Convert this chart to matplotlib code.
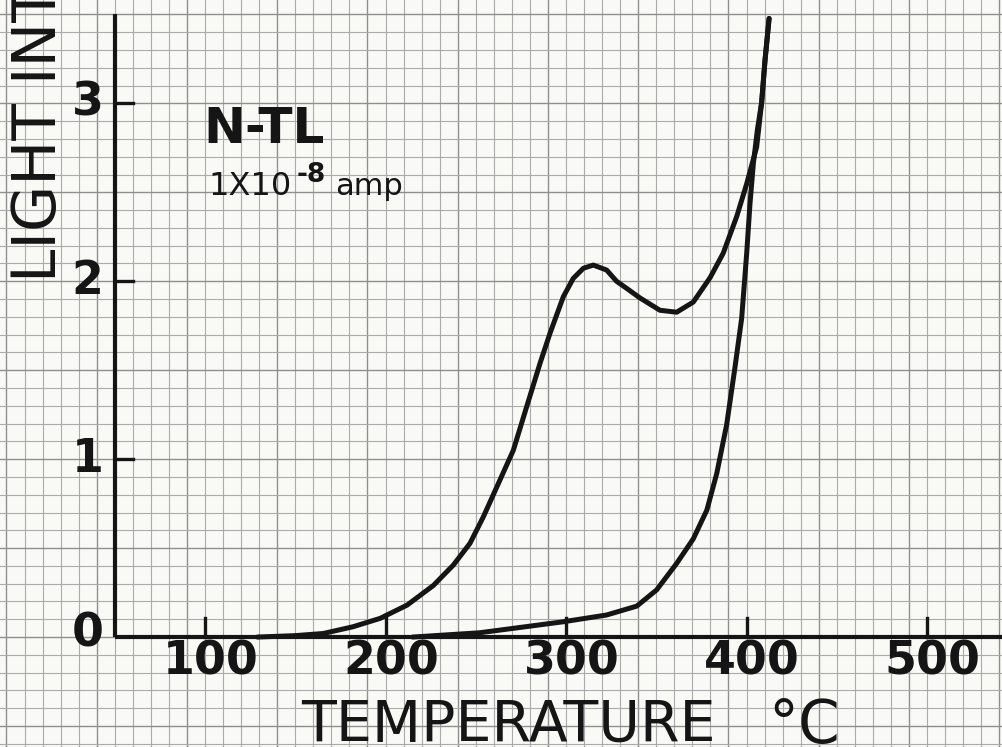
import numpy as np
import matplotlib
matplotlib.use("Agg")
import matplotlib.pyplot as plt

# glow curve (upper trace)
temp_a = [129, 150, 165.5, 182, 197, 212, 226.5, 237.6, 246.8, 254.2, 263.4, 270.8,
          278.2, 285.6, 291.1, 298.5, 304, 309.6, 315.1, 322.5, 328, 333.6, 341, 352,
          361.3, 370.5, 379.8, 387.1, 394.6, 400.1, 405.6, 408.4, 410.2, 412.5]
light_a = [0.0, 0.008, 0.02, 0.058, 0.105, 0.18, 0.29, 0.405, 0.527, 0.676, 0.883, 1.05,
           1.295, 1.539, 1.707, 1.913, 2.016, 2.073, 2.091, 2.063, 2.0, 1.96, 1.906, 1.837,
           1.826, 1.883, 2.02, 2.158, 2.365, 2.548, 2.754, 3.007, 3.237, 3.477]

# background trace (lower curve)
temp_b = [215, 252, 298.5, 322.5, 339.2, 350.2, 361.3, 370.5, 378, 383.5, 389, 393.6,
          397.3, 400.1, 401.9, 403.8, 406, 408.4, 410.2, 412.5]
light_b = [0.0, 0.024, 0.086, 0.124, 0.174, 0.265, 0.414, 0.552, 0.713, 0.919, 1.194, 1.516,
           1.791, 2.158, 2.433, 2.663, 2.85, 3.007, 3.237, 3.477]

x_ticks = [100, 200, 300, 400, 500]
y_ticks = [1, 2, 3]
y_labels = ["0", "1", "2", "3"]

ink = "#151515"
paper = "#f9f9f6"

fig = plt.figure(figsize=(10.03, 7.47), dpi=100, facecolor=paper)
ax = fig.add_axes([0, 0, 1, 1], facecolor=paper)
ax.set_xlim(-13.6, 542.1)
ax.set_ylim(-0.618, 3.581)

# graph paper
ax.set_xticks(np.arange(-10, 550, 50))
ax.set_xticks(np.arange(-10, 550, 10), minor=True)
ax.set_yticks(np.arange(-0.5, 3.6, 0.5))
ax.set_yticks(np.arange(-0.6, 3.6, 0.1), minor=True)
ax.grid(which="minor", color="#ababab", lw=0.8)
ax.grid(which="major", color="#8f8f8f", lw=1.0)
ax.tick_params(which="both", length=0, labelbottom=False, labelleft=False)
for s in ax.spines.values():
    s.set_visible(False)
ax.set_axisbelow(True)

# axes drawn by hand
ax.plot([50, 50], [0, 3.5], color=ink, lw=3, solid_capstyle="butt")
ax.plot([50, 545], [0, 0], color=ink, lw=3, solid_capstyle="butt")
for t in x_ticks:
    ax.plot([t, t], [0, 0.105], color=ink, lw=2.4)
    ax.text(t + 3, -0.14, str(t), ha="center", va="center", fontsize=33,
            fontweight="bold", color=ink)
for v in y_ticks:
    ax.plot([50, 60], [v, v], color=ink, lw=2.4)
for i, lab in enumerate(y_labels):
    ax.text(35, i + (0.017 if i == 0 else 0), lab, ha="center", va="center",
            fontsize=33, fontweight="bold", color=ink)

# curves
ax.plot(temp_a, light_a, color=ink, lw=3.6, solid_joinstyle="round", solid_capstyle="round")
ax.plot(temp_b, light_b, color=ink, lw=3.6, solid_joinstyle="round", solid_capstyle="round")

# labels
ax.text(267.9, -0.59, "TEMPERATURE", ha="center", va="baseline", fontsize=41,
        color=ink)
ax.text(412, -0.596, "°C", ha="left", va="baseline", fontsize=43, color=ink)
ax.text(8.5, 1.994, "LIGHT INTENSITY", rotation=90, rotation_mode="anchor",
        ha="left", va="center", fontsize=43, color=ink)

ax.text(98.9, 2.777, "N-TL", ha="left", va="baseline", fontsize=36,
        fontweight="bold", color=ink)
ax.text(101.7, 2.485, "1X10", ha="left", va="baseline", fontsize=23, color=ink)
ax.text(150.5, 2.56, "-8", ha="left", va="baseline", fontsize=19,
        fontweight="bold", color=ink)
ax.text(172, 2.485, "amp", ha="left", va="baseline", fontsize=22, color=ink)

fig.savefig("out.png", dpi=100, facecolor=paper)
